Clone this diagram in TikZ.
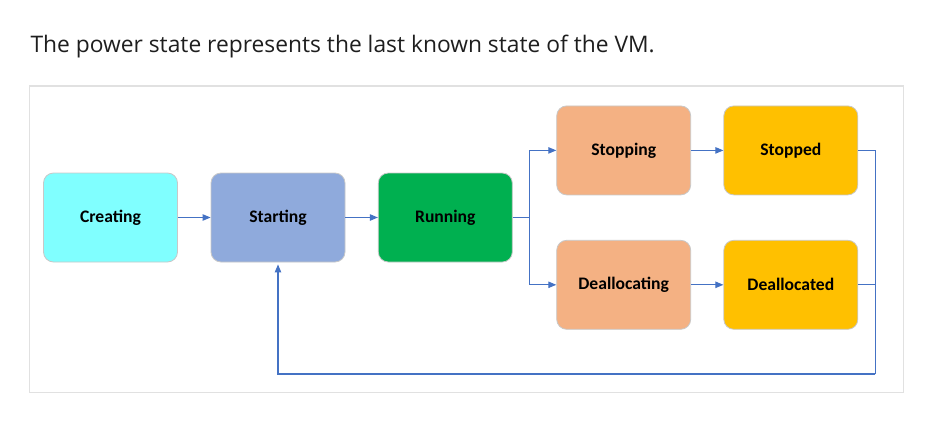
\documentclass[tikz,border=0pt]{standalone}
\usepackage{fontspec}
\setmainfont{Open Sans}
\newfontfamily\boxfont{Carlito}
\usetikzlibrary{arrows.meta}

\definecolor{creatingcyan}{RGB}{128,255,255}
\definecolor{startingblue}{RGB}{143,170,220}
\definecolor{runninggreen}{RGB}{0,176,80}
\definecolor{stoppingorange}{RGB}{244,177,131}
\definecolor{stoppedgold}{RGB}{255,192,0}
\definecolor{linkblue}{RGB}{68,114,196}
\definecolor{boxgray}{RGB}{200,200,200}
\definecolor{framegray}{RGB}{225,225,225}
\definecolor{titleink}{RGB}{30,30,30}

\tikzset{every picture/.style={line width=0.75pt}}
\tikzset{
  statebox/.style={draw=boxgray, line width=0.6pt, rounded corners=7.5pt,
    minimum width=100.5pt, minimum height=66.75pt,
    font=\boxfont\bfseries\fontsize{13.2}{15}\selectfont, text=black},
  link/.style={draw=linkblue, line width=0.8pt},
  linkarrow/.style={link, -{Triangle[length=6pt,width=4.8pt]}}
}

\begin{document}
\begin{tikzpicture}[x=0.75pt,y=0.75pt,yscale=-1,xscale=1]
	\useasboundingbox (0,0) rectangle (937,421);

	% Text Node
	\node[anchor=base west, inner sep=0pt, text=titleink, font=\fontsize{17.1}{20}\selectfont] (title) at (30,52.5) {The power state represents the last known state of the VM.};

	%Shape: Rectangle
	\draw[framegray, line width=0.9pt] (29.5,86) rectangle (903.3,392.3);

	% States
	\node[statebox, fill=creatingcyan] (creating) at (110.5,217.5) {Creating};
	\node[statebox, fill=startingblue] (starting) at (278,217.5) {Starting};
	\node[statebox, fill=runninggreen] (running) at (445.3,217.5) {Running};
	\node[statebox, fill=stoppingorange] (stopping) at (623.7,150.4) {Stopping};
	\node[statebox, fill=stoppedgold] (stopped) at (790.8,150.4) {Stopped};
	\node[statebox, fill=stoppingorange] (deallocating) at (623.7,284.8) {Deallocating};
	\node[statebox, fill=stoppedgold] (deallocated) at (790.8,284.8) {Deallocated};

	\coordinate (split) at (529.3,217.5);
	\coordinate (back) at (875.3,374);

	%Straight Lines
	\draw[linkarrow] (creating) -- (starting);
	\draw[linkarrow] (starting) -- (running);
	\draw[link] (running) -- (split);
	\draw[linkarrow] (split) |- (stopping);
	\draw[linkarrow] (split) |- (deallocating);
	\draw[linkarrow] (stopping) -- (stopped);
	\draw[linkarrow] (deallocating) -- (deallocated);
	\draw[link] (stopped) -| (back);
	\draw[link] (deallocated) -| (back);
	\draw[linkarrow, shorten >=1.5pt] (back) -| (starting);

\end{tikzpicture}
\end{document}
